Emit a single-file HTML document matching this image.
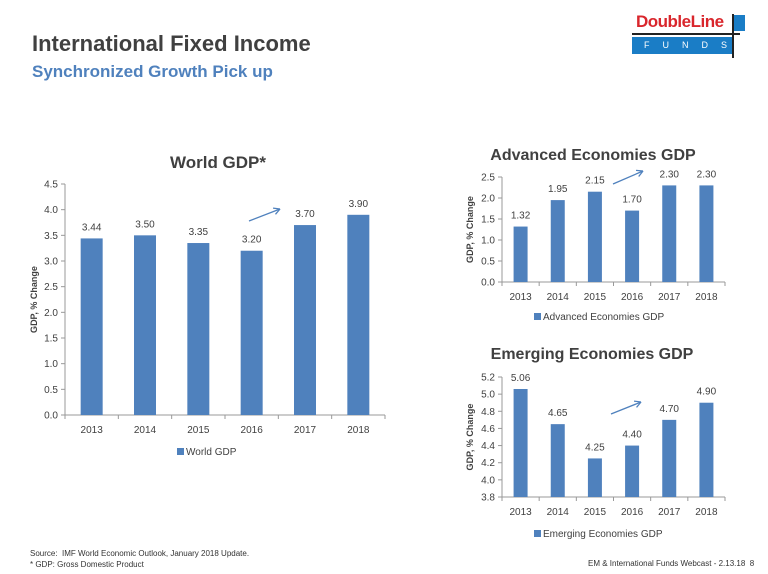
<!DOCTYPE html>
<html><head><meta charset="utf-8"><style>
body{margin:0;width:768px;height:574px;background:#fff;font-family:"Liberation Sans",sans-serif;overflow:hidden;position:relative}
.t{position:absolute;white-space:nowrap}
svg{position:absolute;left:0;top:0}
</style></head><body>
<div class="t" style="left:32px;top:31px;font-size:22px;font-weight:bold;color:#404040">International Fixed Income</div>
<div class="t" style="left:32px;top:62px;font-size:17px;font-weight:bold;color:#4f81bd">Synchronized Growth Pick up</div>
<div style="position:absolute;left:632px;top:12px;width:126px;height:48px">
 <div class="t" style="left:4px;top:0;font-size:17px;font-weight:bold;color:#d9262c;letter-spacing:-0.5px">DoubleLine</div>
 <div style="position:absolute;left:0;top:21px;width:108px;height:2px;background:#222"></div>
 <div style="position:absolute;left:0;top:25px;width:100px;height:17px;background:#1a7dc6;color:#fff;font-size:9px;letter-spacing:13px;line-height:17px;text-indent:12px">FUNDS</div>
 <div style="position:absolute;left:101px;top:3px;width:12px;height:16px;background:#1a7dc6"></div>
 <div style="position:absolute;left:100px;top:2px;width:2px;height:44px;background:#222"></div>
</div>
<div class="t" style="left:30px;top:548px;font-size:8px;color:#333;line-height:11px">Source:&nbsp; IMF World Economic Outlook, January 2018 Update.<br>* GDP: Gross Domestic Product</div>
<div class="t" style="left:588px;top:559px;font-size:8px;color:#333">EM &amp; International Funds Webcast - 2.13.18&nbsp; 8</div>
<svg id="s" width="768" height="574" font-family="Liberation Sans, sans-serif"></svg>
<script>
const years=["2013","2014","2015","2016","2017","2018"];
const worldVals=[3.44,3.50,3.35,3.20,3.70,3.90];
const worldLabels=["3.44","3.50","3.35","3.20","3.70","3.90"];
const worldTicks=["0.0","0.5","1.0","1.5","2.0","2.5","3.0","3.5","4.0","4.5"];
const advVals=[1.32,1.95,2.15,1.70,2.30,2.30];
const advLabels=["1.32","1.95","2.15","1.70","2.30","2.30"];
const advTicks=["0.0","0.5","1.0","1.5","2.0","2.5"];
const emVals=[5.06,4.65,4.25,4.40,4.70,4.90];
const emLabels=["5.06","4.65","4.25","4.40","4.70","4.90"];
const emTicks=["3.8","4.0","4.2","4.4","4.6","4.8","5.0","5.2"];
const NS="http://www.w3.org/2000/svg";
const svg=document.getElementById('s');
function mk(tag,at,txt){const e=document.createElementNS(NS,tag);for(const k in at)e.setAttribute(k,at[k]);if(txt!=null)e.textContent=txt;svg.appendChild(e);return e;}
function chart(c){
 const ticks=c.ticks.map(Number),min=ticks[0],max=ticks[ticks.length-1];
 const y=v=>c.y0-(v-min)/(max-min)*(c.y0-c.y1);
 const n=c.cats.length,step=(c.x1-c.x0)/n;
 const x=i=>c.x0+step*(i+0.5);
 let e=mk('text',{x:c.titleX,y:c.titleY,'text-anchor':'middle','font-size':c.titleSize,'font-weight':'bold',fill:'#404040'},c.title);
 
 
 mk('line',{x1:c.x0,y1:c.y0,x2:c.x0,y2:c.y1,stroke:'#999'});
 mk('line',{x1:c.x0,y1:c.y0,x2:c.x1,y2:c.y0,stroke:'#999'});
 c.ticks.forEach((t,i)=>{const yy=y(ticks[i]);
  mk('line',{x1:c.x0-4,y1:yy,x2:c.x0,y2:yy,stroke:'#999'});
  e=mk('text',{x:c.x0-7,y:yy+3.5,'text-anchor':'end','font-size':10,fill:'#404040'},t);
  
  });
 for(let i=0;i<=n;i++)mk('line',{x1:c.x0+step*i,y1:c.y0,x2:c.x0+step*i,y2:c.y0+4,stroke:'#999'});
 c.vals.forEach((v,i)=>{
  e=mk('rect',{x:x(i)-c.bw/2,y:y(v),width:c.bw,height:c.y0-y(v),fill:'#4f81bd'});
  
  
  e=mk('text',{x:x(i),y:y(v)-8,'text-anchor':'middle','font-size':10,fill:'#404040'},c.labels[i]);
  
  
  e=mk('text',{x:x(i),y:c.y0+18,'text-anchor':'middle','font-size':10,fill:'#404040'},c.cats[i]);
  
  
 });
 const ym=(c.y0+c.y1)/2;
 e=mk('text',{x:c.ylx,y:ym,'text-anchor':'middle','font-size':9,'font-weight':'bold',fill:'#404040',transform:`rotate(-90 ${c.ylx} ${ym})`},'GDP, % Change');
 
 
 const lx=c.legX;
 e=mk('rect',{x:lx,y:c.legY-7,width:7,height:7,fill:'#4f81bd'});
 
 
 e=mk('text',{x:lx+9,y:c.legY,'font-size':10,fill:'#404040'},c.legend);
 
 
 const a=c.arrow;
 e=mk('line',{x1:a[0],y1:a[1],x2:a[2],y2:a[3],stroke:'#4f81bd','stroke-width':1.3});
 
 
 const ang=Math.atan2(a[3]-a[1],a[2]-a[0]);
 [0.5,-0.5].forEach(d=>mk('line',{x1:a[2],y1:a[3],x2:a[2]-7*Math.cos(ang+d),y2:a[3]-7*Math.sin(ang+d),stroke:'#4f81bd','stroke-width':1.3}));
}
chart({id:'world',title:'World GDP*',titleX:218,titleY:168,titleSize:17,x0:65,x1:385,y0:415,y1:184,bw:22,cats:years,vals:worldVals,labels:worldLabels,ticks:worldTicks,ylx:37,legX:177,legY:455,legend:'World GDP',arrow:[249,221,280,209]});
chart({id:'advanced',title:'Advanced Economies GDP',titleX:593,titleY:160,titleSize:16,x0:502,x1:725,y0:282,y1:177,bw:14,cats:years,vals:advVals,labels:advLabels,ticks:advTicks,ylx:473,legX:534,legY:320,legend:'Advanced Economies GDP',arrow:[613,184,643,171]});
chart({id:'emerging',title:'Emerging Economies GDP',titleX:592,titleY:359,titleSize:16,x0:502,x1:725,y0:497,y1:377,bw:14,cats:years,vals:emVals,labels:emLabels,ticks:emTicks,ylx:473,legX:534,legY:537,legend:'Emerging Economies GDP',arrow:[611,414,641,402]});
</script>
</body></html>
